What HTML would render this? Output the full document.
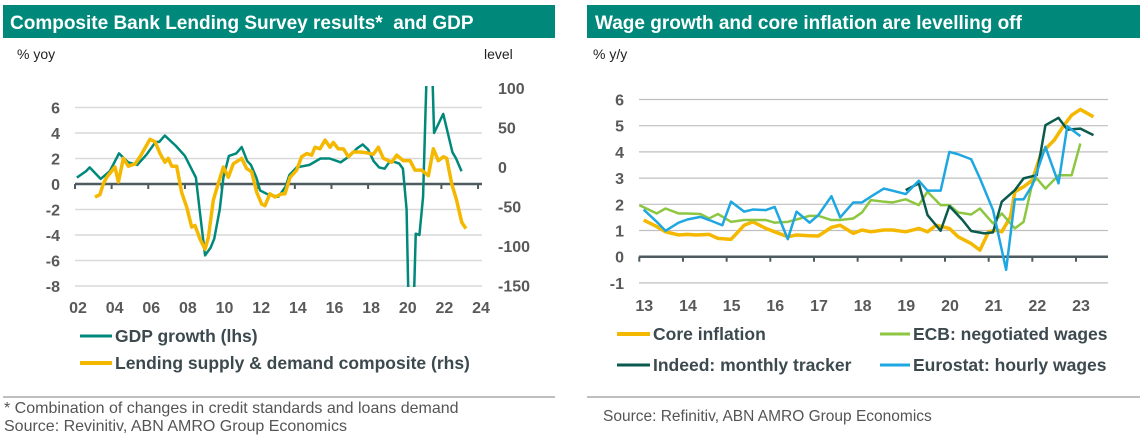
<!DOCTYPE html>
<html><head><meta charset="utf-8">
<style>
body{margin:0;background:#fff;width:1146px;height:442px;overflow:hidden;font-family:"Liberation Sans",sans-serif}
svg{position:absolute;left:0;top:0}
</style></head>
<body>
<svg width="1146" height="442" id="s">
<rect x="3" y="5" width="552" height="33" fill="#00897b"/>
<text x="10" y="29" fill="#fff" font-size="19" font-weight="bold" xml:space="preserve">Composite Bank Lending Survey results*  and GDP</text>
<rect x="587" y="5" width="553" height="33" fill="#00897b"/>
<text x="595" y="29" fill="#fff" font-size="19" font-weight="bold">Wage growth and core inflation are levelling off</text>
<text x="17" y="59" font-size="14" fill="#222">% yoy</text>
<text x="484" y="59" font-size="14" fill="#222">level</text>
<text x="593" y="59" font-size="14" fill="#222">% y/y</text>
<defs>
<clipPath id="cl"><rect x="60" y="86" width="440" height="201"/></clipPath>
</defs>
<g id="L"></g><g id="R"></g>
<line x1="80" y1="336" x2="112" y2="336" stroke="#00897b" stroke-width="3"/>
<text x="115" y="342" font-size="17.5" font-weight="bold" fill="#3c4a4f">GDP growth (lhs)</text>
<line x1="80" y1="363" x2="112" y2="363" stroke="#f5b800" stroke-width="4"/>
<text x="115" y="369" font-size="17.5" font-weight="bold" fill="#3c4a4f">Lending supply &amp; demand composite (rhs)</text>
<line x1="3" y1="397" x2="555" y2="397" stroke="#aaa" stroke-width="1.5"/>
<text x="4" y="413" font-size="16" fill="#555">* Combination of changes in credit standards and loans demand</text>
<text x="4" y="431" font-size="16" fill="#555">Source: Revinitiv, ABN AMRO Group Economics</text>
<line x1="617" y1="334" x2="650" y2="334" stroke="#f5b800" stroke-width="4"/>
<text x="653" y="340" font-size="17.5" font-weight="bold" fill="#3c4a4f">Core inflation</text>
<line x1="880" y1="334" x2="910" y2="334" stroke="#8dc641" stroke-width="3"/>
<text x="913" y="340" font-size="17.5" font-weight="bold" fill="#3c4a4f">ECB: negotiated wages</text>
<line x1="617" y1="365" x2="650" y2="365" stroke="#0b5a4e" stroke-width="3"/>
<text x="653" y="371" font-size="17.5" font-weight="bold" fill="#3c4a4f">Indeed: monthly tracker</text>
<line x1="880" y1="365" x2="910" y2="365" stroke="#1ea7e1" stroke-width="3"/>
<text x="913" y="371" font-size="17.5" font-weight="bold" fill="#3c4a4f">Eurostat: hourly wages</text>
<line x1="587" y1="397" x2="1140" y2="397" stroke="#aaa" stroke-width="1.5"/>
<text x="603" y="421" font-size="15.5" fill="#555">Source: Refinitiv, ABN AMRO Group Economics</text>
</svg>
<script>
// Left chart data
const gdpYears=[2002.1,2002.6,2002.8,2003.4,2003.9,2004.4,2004.9,2005.4,2005.9,2006.4,2006.6,2006.9,2007.5,2008.0,2008.6,2008.8,2009.1,2009.4,2009.6,2009.9,2010.1,2010.4,2010.8,2011.1,2011.4,2011.6,2011.9,2012.1,2012.5,2012.8,2013.1,2013.5,2013.7,2014.1,2014.8,2015.4,2015.9,2016.5,2017.0,2017.4,2017.7,2018.0,2018.3,2018.6,2018.9,2019.2,2019.5,2019.7,2019.9,2020.1,2020.2,2020.5,2020.6,2020.8,2021.0,2021.2,2021.5,2021.6,2022.1,2022.3,2022.6,2022.8,2023.1];
const gdpValues=[0.5,1.0,1.3,0.4,1.0,2.4,1.7,1.5,2.3,3.3,3.3,3.8,3.0,2.2,0.5,-2.0,-5.6,-5.0,-4.3,-2.0,0.5,2.2,2.4,2.9,1.8,1.5,0.5,-0.5,-0.8,-0.9,-1.0,-0.2,0.7,1.3,1.5,2.0,2.0,1.7,2.2,2.8,3.1,2.7,1.8,1.3,1.2,1.8,1.7,1.6,1.2,-2.0,-9,-9,-3.9,-4.0,-1.0,9,9,4.0,5.5,4.3,2.5,2.0,1.0];
const lendZx=[285,300,310,320,345,355,370,385,405,420,450,465,480,495,505,515,530,545,560,575,585,600,615,625,640,655,670,685,700,725,740,755,770,785,795,810,825,845,855,870,890,905,920,935,945,960,975,990,1000,1015,1030,1045,1060,1080,1100,1120,1135,1150,1175,1190,1210,1230,1245,1265,1285,1300,1315,1330,1340,1355,1370,1385,1398];
const lendValues=[-38,-35,-21,-13,0,-19,11,1,4,13,35,32,17,6,11,1,1,-32,-51,-76,-74,-91,-104,-89,-42,-21,0,-13,4,11,-2,-6,-32,-47,-49,-34,-38,-34,-34,-13,-4,13,17,15,25,23,34,25,31,23,23,13,19,19,18,16,25,11,6,15,8,8,-4,-4,-11,23,8,13,11,-21,-42,-70,-78];
const lendYears=lendZx.map(z=>+(2002+(z/3-75)/18.32).toFixed(2));
const leftTicks=[-8,-6,-4,-2,0,2,4,6];
const rightTicks=[-150,-100,-50,0,50,100];
const leftXLabels=["02","04","06","08","10","12","14","16","18","20","22","24"];
// Right chart data
const coreYears=[2013.1,2013.4,2013.6,2013.9,2014.1,2014.3,2014.6,2014.8,2015.1,2015.4,2015.6,2015.9,2016.1,2016.4,2016.6,2016.9,2017.1,2017.4,2017.6,2017.9,2018.1,2018.3,2018.6,2018.8,2019.1,2019.4,2019.6,2019.8,2020.1,2020.3,2020.6,2020.8,2021.0,2021.2,2021.3,2021.5,2021.6,2021.8,2022.0,2022.2,2022.5,2022.7,2022.9,2023.1,2023.4];
const coreValues=[1.4,1.15,0.95,0.83,0.85,0.83,0.85,0.7,0.66,1.2,1.33,1.08,0.95,0.76,0.83,0.8,0.79,1.12,1.2,0.89,1.02,0.95,1.02,1.02,0.95,1.08,0.95,1.2,1.08,0.76,0.5,0.25,0.95,1.02,0.95,1.52,2.48,2.67,2.92,3.94,4.45,4.96,5.4,5.62,5.34];
const ecbYears=[2013.0,2013.4,2013.6,2013.9,2014.1,2014.4,2014.6,2014.8,2015.1,2015.4,2015.6,2015.9,2016.1,2016.4,2016.6,2016.9,2017.1,2017.4,2017.6,2017.9,2018.1,2018.3,2018.6,2018.8,2019.1,2019.4,2019.6,2019.9,2020.1,2020.3,2020.6,2020.8,2021.1,2021.3,2021.6,2021.8,2022.0,2022.1,2022.3,2022.6,2022.9,2023.1];
const ecbValues=[1.97,1.65,1.84,1.65,1.65,1.63,1.46,1.63,1.33,1.4,1.4,1.4,1.3,1.33,1.42,1.56,1.56,1.4,1.4,1.46,1.69,2.16,2.1,2.07,2.19,1.97,2.48,1.97,1.97,1.69,1.61,1.84,1.27,1.65,1.08,1.33,2.8,2.99,2.6,3.11,3.11,4.32];
const indeedYears=[2019.1,2019.4,2019.6,2019.9,2020.1,2020.4,2020.6,2020.9,2021.1,2021.3,2021.6,2021.8,2022.1,2022.3,2022.6,2022.8,2023.1,2023.4];
const indeedValues=[2.54,2.8,1.59,0.99,1.93,1.4,0.98,0.89,0.93,2.1,2.54,2.99,3.11,5.02,5.3,4.85,4.89,4.64];
const euroYears=[2013.1,2013.4,2013.6,2013.9,2014.1,2014.4,2014.6,2014.9,2015.1,2015.4,2015.6,2015.9,2016.1,2016.4,2016.6,2016.9,2017.1,2017.4,2017.6,2017.9,2018.1,2018.3,2018.6,2018.8,2019.1,2019.4,2019.6,2019.9,2020.1,2020.3,2020.6,2020.8,2021.1,2021.4,2021.6,2021.8,2022.0,2022.3,2022.6,2022.8,2023.1];
const euroValues=[1.8,1.33,0.99,1.3,1.42,1.52,1.4,1.2,2.1,1.72,1.8,1.78,1.9,0.67,1.72,1.3,1.59,2.31,1.5,2.07,2.07,2.29,2.6,2.52,2.39,2.9,2.52,2.52,4.0,3.91,3.72,2.99,1.78,-0.5,2.19,2.19,2.73,4.19,2.8,4.98,4.6];
const wageTicks=[-1,0,1,2,3,4,5,6];
const wageXLabels=["13","14","15","16","17","18","19","20","21","22","23"];

const NS="http://www.w3.org/2000/svg";
function mk(parent,tag,attrs){const e=document.createElementNS(NS,tag);for(const k in attrs)e.setAttribute(k,attrs[k]);parent.appendChild(e);return e;}
const lx=y=>75+(y-2002)*18.32, ly=v=>184-v*12.75, ry=v=>167-v*0.79;
const wx=y=>639.3+(y-2013)*43.67, wy=v=>256.7-v*26.2;
const L=document.getElementById('L'), R=document.getElementById('R');
leftTicks.forEach(t=>{
  if(t!==0){const g=mk(L,'line',{x1:75,x2:482,y1:ly(t),y2:ly(t),stroke:'#d9d9d9','stroke-width':1.5});
  
  }
  const tx=mk(L,'text',{x:60,y:ly(t)+6,'text-anchor':'end','font-size':16,'font-weight':'bold',fill:'#595959'});tx.textContent=t;
  
  
});
rightTicks.forEach(t=>{
  const tx=mk(L,'text',{x:498,y:ry(t)+6,'font-size':16,'font-weight':'bold',fill:'#595959'});tx.textContent=t;
  
  
});
const ax=mk(L,'line',{x1:75,x2:482,y1:184,y2:184,stroke:'#4d5a5f','stroke-width':2.5});


leftXLabels.forEach((l,i)=>{
  const x=lx(2002+2*i);
  const tk=mk(L,'line',{x1:x,x2:x,y1:184,y2:189,stroke:'#4d5a5f','stroke-width':2});
  
  
  const tx=mk(L,'text',{x:x+3,y:313,'text-anchor':'middle','font-size':16,'font-weight':'bold',fill:'#595959'});tx.textContent=l;
  
  
});
const gp=mk(L,'polyline',{points:gdpYears.map((y,i)=>lx(y)+','+ly(gdpValues[i])).join(' '),fill:'none',stroke:'#00897b','stroke-width':2.5,'clip-path':'url(#cl)','stroke-linejoin':'round'});


const lp=mk(L,'polyline',{points:lendYears.map((y,i)=>lx(y)+','+ry(lendValues[i])).join(' '),fill:'none',stroke:'#f5b800','stroke-width':3.5,'stroke-linejoin':'round'});



wageTicks.forEach(t=>{
  if(t!==0){const g=mk(R,'line',{x1:639,x2:1108,y1:wy(t),y2:wy(t),stroke:'#bfbfbf','stroke-width':1.2});
  
  }
  const tx=mk(R,'text',{x:624,y:wy(t)+6,'text-anchor':'end','font-size':16,'font-weight':'bold',fill:'#595959'});tx.textContent=t;
  
  
});
const ax2=mk(R,'line',{x1:639,x2:1108,y1:wy(0),y2:wy(0),stroke:'#4d5a5f','stroke-width':2.5});


wageXLabels.forEach((l,i)=>{
  const x=wx(2013+i);
  const tk=mk(R,'line',{x1:x,x2:x,y1:wy(0),y2:wy(0)+5,stroke:'#4d5a5f','stroke-width':2});
  
  
  const tx=mk(R,'text',{x:x+5,y:311,'text-anchor':'middle','font-size':16,'font-weight':'bold',fill:'#595959'});tx.textContent=l;
  
  
});
function wl(ys,vs,col,w,name){
  const p=mk(R,'polyline',{points:ys.map((y,i)=>wx(y)+','+wy(vs[i])).join(' '),fill:'none',stroke:col,'stroke-width':w,'stroke-linejoin':'round'});
  
  
}
wl(coreYears,coreValues,'#f5b800',3.5,'core-inflation-line');
wl(ecbYears,ecbValues,'#8dc641',2.5,'ecb-wages-line');
wl(indeedYears,indeedValues,'#0b5a4e',2.5,'indeed-tracker-line');
wl(euroYears,euroValues,'#1ea7e1',2.5,'eurostat-wages-line');
</script>
</body></html>
